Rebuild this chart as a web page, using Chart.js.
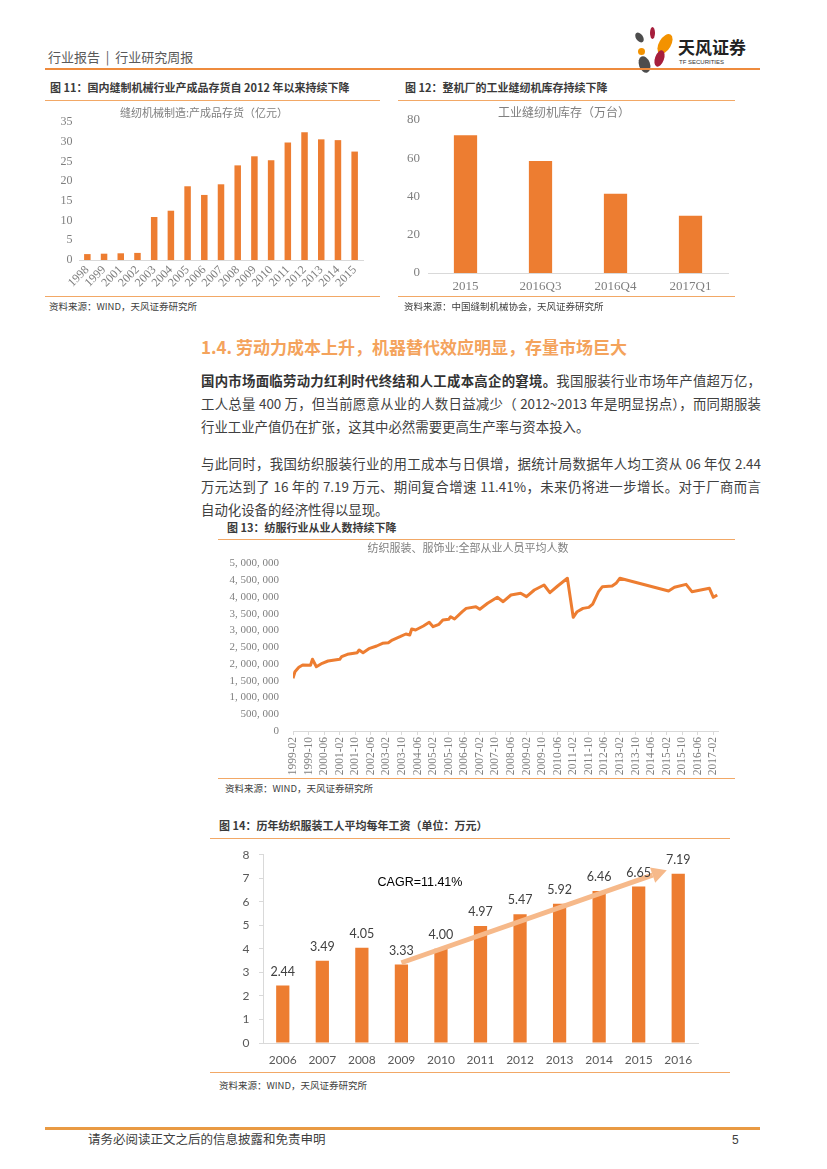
<!DOCTYPE html>
<html>
<head>
<meta charset="utf-8">
<script src="https://cdn.jsdelivr.net/npm/chart.js@4.4.0/dist/chart.umd.min.js"></script>
<style>
    body { margin: 0; width: 827px; height: 1169px; position: relative; background: #fff; overflow: hidden;
           font-family: "Noto Sans CJK SC", sans-serif; color: #404040; }
    .t { position: absolute; white-space: nowrap; line-height: 1; }
    .cap { font-size: 11px; font-weight: bold; color: #3a3a3a; }
    .src { font-size: 9.5px; color: #404040; }
    .rule { position: absolute; height: 1px; background: #F2A866; }
    .box { position: absolute; }
    .petal { position: absolute; border-radius: 50%; }
    .para { position: absolute; left: 201px; width: 560px; font-size: 13.4px; line-height: 23px; color: #404040; }
    .para div { white-space: nowrap; text-align: justify; text-align-last: justify; }
    .para div.last { text-align-last: left; }
</style>
</head>
<body>

<!-- header -->
<div class="t" style="left:48px;top:50px;font-size:13px;color:#595959;">行业报告 &nbsp;|&nbsp; 行业研究周报</div>
<div class="petal" style="left:636px;top:32px;width:7px;height:11px;background:#4d4d4d;transform:rotate(-35deg);"></div>
<div class="petal" style="left:650px;top:27px;width:5px;height:12px;background:#a61e3c;"></div>
<div class="petal" style="left:659px;top:33px;width:12px;height:22px;background:#f39200;transform:rotate(30deg);"></div>
<div class="petal" style="left:638px;top:48px;width:7px;height:7px;background:#f39200;"></div>
<div class="petal" style="left:655px;top:50px;width:9px;height:17px;background:#a61e3c;transform:rotate(20deg);"></div>
<div class="petal" style="left:639px;top:56px;width:11px;height:17px;background:#4d4d4d;transform:rotate(-20deg);"></div>
<div class="t" style="left:678px;top:37.5px;font-size:17px;font-weight:bold;color:#222;">天风证券</div>
<div class="t" style="left:679px;top:59px;font-size:6px;font-family:'Liberation Sans',sans-serif;color:#333;">TF SECURITIES</div>
<div class="rule" style="left:45px;top:68px;width:715px;height:2px;background:#EE8B3D;"></div>

<!-- figure 11 -->
<div class="t cap" style="left:50px;top:82px;">图 11：国内缝制机械行业产成品存货自 2012 年以来持续下降</div>
<div class="rule" style="left:45px;top:99.5px;width:335px;"></div>
<div class="box" style="left:45px;top:104px;width:330px;height:192px;"><canvas id="chart11"></canvas></div>
<div class="rule" style="left:45px;top:295.5px;width:335px;"></div>
<div class="t src" style="left:49px;top:302px;">资料来源：WIND，天风证券研究所</div>

<!-- figure 12 -->
<div class="t cap" style="left:405px;top:82px;">图 12：整机厂的工业缝纫机库存持续下降</div>
<div class="rule" style="left:398px;top:99.5px;width:337px;"></div>
<div class="box" style="left:400px;top:103px;width:344px;height:194px;"><canvas id="chart12"></canvas></div>
<div class="rule" style="left:398px;top:295.5px;width:337px;"></div>
<div class="t src" style="left:404px;top:302px;">资料来源：中国缝制机械协会，天风证券研究所</div>

<!-- section text -->
<div class="t" style="left:201px;top:337.5px;font-size:17px;font-weight:bold;color:#F4A35C;">1.4. 劳动力成本上升，机器替代效应明显，存量市场巨大</div>
<div class="para" style="top:368.5px;">
    <div><b style="color:#333;">国内市场面临劳动力红利时代终结和人工成本高企的窘境。</b>我国服装行业市场年产值超万亿，</div>
    <div>工人总量 400 万，但当前愿意从业的人数日益减少（ 2012~2013 年是明显拐点），而同期服装</div>
    <div class="last">行业工业产值仍在扩张，这其中必然需要更高生产率与资本投入。</div>
</div>
<div class="para" style="top:452px;">
    <div>与此同时，我国纺织服装行业的用工成本与日俱增，据统计局数据年人均工资从 06 年仅 2.44</div>
    <div>万元达到了 16 年的 7.19 万元、期间复合增速 11.41%，未来仍将进一步增长。对于厂商而言</div>
    <div class="last">自动化设备的经济性得以显现。</div>
</div>

<!-- figure 13 -->
<div class="t cap" style="left:227px;top:522px;">图 13：纺服行业从业人数持续下降</div>
<div class="rule" style="left:218px;top:538.5px;width:517px;"></div>
<div class="box" style="left:218px;top:539px;width:520px;height:237px;"><canvas id="chart13"></canvas></div>
<div class="rule" style="left:218px;top:777.5px;width:517px;"></div>
<div class="t src" style="left:225px;top:784px;">资料来源：WIND，天风证券研究所</div>

<!-- figure 14 -->
<div class="t cap" style="left:219px;top:820px;">图 14：历年纺织服装工人平均每年工资（单位：万元）</div>
<div class="rule" style="left:210px;top:837.5px;width:520px;"></div>
<div class="box" style="left:213px;top:838px;width:497px;height:233px;"><canvas id="chart14"></canvas></div>
<div class="rule" style="left:210px;top:1071.5px;width:520px;"></div>
<div class="t src" style="left:219px;top:1081px;">资料来源：WIND，天风证券研究所</div>

<!-- footer -->
<div class="rule" style="left:45px;top:1127px;width:715px;height:2.5px;background:#E99A43;"></div>
<div class="t" style="left:88px;top:1133px;font-size:12.5px;color:#404040;">请务必阅读正文之后的信息披露和免责申明</div>
<div class="t" style="left:732px;top:1134px;font-size:12px;color:#404040;font-family:'Liberation Sans',sans-serif;">5</div>

<script>
// fig 11: 缝纫机械制造 产成品存货（亿元）
const invYears = ["1998", "1999", "2001", "2002", "2003", "2004", "2005", "2006", "2007",
    "2008", "2009", "2010", "2011", "2012", "2013", "2014", "2015"];
const invValues = [1.5, 1.6, 1.7, 1.8, 10.9, 12.5, 18.7, 16.5, 19.2, 24.0, 26.3, 25.3, 29.8, 32.4, 30.6, 30.4, 27.5];

// fig 12: 工业缝纫机库存（万台）
const stockPeriods = ["2015", "2016Q3", "2016Q4", "2017Q1"];
const stockValues = [72, 58.5, 41.4, 29.9];

// fig 13: 纺织服装、服饰业 全部从业人员平均人数
const empMonths = [
    "1999-02", "1999-03", "1999-05", "1999-07", "1999-11", "1999-12", "2000-02", "2000-05", "2000-08",
    "2001-02", "2001-03", "2001-06", "2001-11", "2001-12", "2002-02", "2002-05", "2002-09", "2002-12",
    "2003-03", "2003-05", "2003-09", "2003-12", "2004-02", "2004-03", "2004-05", "2004-09", "2004-12",
    "2005-02", "2005-05", "2005-07", "2005-10", "2005-11", "2006-01", "2006-05", "2006-07", "2006-12",
    "2007-02", "2007-06", "2007-11", "2008-02", "2008-06", "2008-11", "2009-02", "2009-06", "2009-11",
    "2010-02", "2010-06", "2010-11", "2011-02", "2011-04", "2011-07", "2011-10", "2011-12", "2012-03",
    "2012-05", "2012-10", "2012-12", "2013-02", "2015-03", "2015-06", "2015-12", "2016-03", "2016-12",
    "2017-02", "2017-04"];
const empValues = [
    1571000, 1768000, 1899000, 1968000, 1958000, 2138000, 1917000, 2018000, 2087000,
    2138000, 2215000, 2287000, 2335000, 2415000, 2335000, 2454000, 2534000, 2615000,
    2633000, 2713000, 2812000, 2892000, 2862000, 3041000, 3011000, 3131000, 3240000,
    3110000, 3180000, 3310000, 3330000, 3408000, 3340000, 3557000, 3656000, 3706000,
    3630000, 3810000, 3986000, 3855000, 4055000, 4105000, 4005000, 4204000, 4353000,
    4124000, 4323000, 4553000, 3390000, 3557000, 3656000, 3686000, 3786000, 4154000,
    4303000, 4323000, 4403000, 4553000, 4174000, 4284000, 4373000, 4154000, 4254000,
    3986000, 4055000];
const empTickMonths = [
    "1999-02", "1999-10", "2000-06", "2001-02", "2001-10", "2002-06", "2003-02", "2003-10",
    "2004-06", "2005-02", "2005-10", "2006-06", "2007-02", "2007-10", "2008-06", "2009-02",
    "2009-10", "2010-06", "2011-02", "2011-10", "2012-06", "2013-02", "2013-10", "2014-06",
    "2015-02", "2015-10", "2016-06", "2017-02"];

// fig 14: 历年纺织服装工人平均每年工资（万元）
const wageYears = ["2006", "2007", "2008", "2009", "2010", "2011", "2012", "2013", "2014", "2015", "2016"];
const wageValues = [2.44, 3.49, 4.05, 3.33, 4.00, 4.97, 5.47, 5.92, 6.46, 6.65, 7.19];
const cagrText = "CAGR=11.41%";
// arrow ends in (category index, value)
const cagrFrom = [3, 3.41];
const cagrTo = [9.71, 7.34];

const ORANGE = "#ED7D31";
const SERIF = "'Liberation Serif', 'DejaVu Serif', serif";
const CJK = "'Noto Sans CJK SC', sans-serif";
const SANS = "Lato, 'Liberation Sans', sans-serif";
const AXIS = "#d9d9d9";

Chart.defaults.animation = false;
Chart.defaults.events = [];
Chart.defaults.plugins.legend.display = false;
Chart.defaults.plugins.tooltip.enabled = false;

const noGrid = { display: false, drawTicks: false };

new Chart(document.getElementById("chart11"), {
    type: "bar",
    data: {
        labels: invYears,
        datasets: [{ data: invValues, backgroundColor: ORANGE, barPercentage: 0.78, categoryPercentage: 0.5 }],
    },
    options: {
        responsive: true,
        maintainAspectRatio: false,
        layout: { padding: { left: 0, right: 12, top: 0, bottom: 0 } },
        plugins: {
            title: {
                display: true,
                text: "缝纫机械制造:产成品存货（亿元）",
                color: "#7f7f7f",
                font: { family: CJK, size: 11, weight: "normal" },
                padding: { top: 2.4, bottom: 2.4 },
            },
        },
        scales: {
            x: {
                grid: noGrid,
                border: { color: AXIS },
                ticks: { autoSkip: false, minRotation: 45, maxRotation: 45, padding: 3, color: "#7f7f7f", font: { family: SERIF, size: 12 } },
                afterFit: s => { s.height = 36; },
            },
            y: {
                min: 0,
                max: 35,
                grid: noGrid,
                border: { display: false },
                ticks: { stepSize: 5, padding: 6.5, color: "#7f7f7f", font: { family: SERIF, size: 12 } },
                afterFit: s => { s.width = 34; },
            },
        },
    },
});

new Chart(document.getElementById("chart12"), {
    type: "bar",
    data: {
        labels: stockPeriods,
        datasets: [{ data: stockValues, backgroundColor: ORANGE, barPercentage: 0.62, categoryPercentage: 0.5 }],
    },
    options: {
        responsive: true,
        maintainAspectRatio: false,
        layout: { padding: { left: 0, right: 16, top: 0, bottom: 0 } },
        plugins: {
            title: {
                display: true,
                text: "工业缝纫机库存（万台）",
                color: "#7f7f7f",
                font: { family: CJK, size: 12, weight: "normal" },
                padding: { top: 1.8, bottom: 0.8 },
            },
        },
        scales: {
            x: {
                grid: noGrid,
                border: { color: AXIS },
                ticks: { padding: 6, color: "#7f7f7f", font: { family: SERIF, size: 13 } },
                afterFit: s => { s.height = 24; },
            },
            y: {
                min: 0,
                max: 80,
                grid: noGrid,
                border: { display: false },
                ticks: { stepSize: 20, padding: 8, color: "#7f7f7f", font: { family: SERIF, size: 13 } },
                afterFit: s => { s.width = 28; },
            },
        },
    },
});

// month string -> months since 1999-02
function monthIndex(m) {
    const [y, mo] = m.split("-").map(Number);
    return (y - 1999) * 12 + (mo - 2);
}

new Chart(document.getElementById("chart13"), {
    type: "line",
    data: {
        datasets: [{
            data: empMonths.map((m, i) => ({ x: monthIndex(m), y: empValues[i] })),
            borderColor: ORANGE,
            borderWidth: 3,
            borderJoinStyle: "round",
            pointRadius: 0,
            tension: 0,
        }],
    },
    options: {
        responsive: true,
        maintainAspectRatio: false,
        layout: { padding: { left: 0, right: 20, top: 0, bottom: 0 } },
        plugins: {
            title: {
                display: true,
                text: "纺织服装、服饰业:全部从业人员平均人数",
                color: "#7f7f7f",
                font: { family: CJK, size: 11, weight: "normal" },
                padding: { top: 2.4, bottom: 8.7 },
            },
        },
        scales: {
            x: {
                type: "linear",
                min: 0,
                max: 218.4,
                afterBuildTicks: axis => { axis.ticks = empTickMonths.map(m => ({ value: monthIndex(m) })); },
                grid: { display: true, drawOnChartArea: false, drawTicks: true, tickLength: 4, color: AXIS },
                border: { color: AXIS },
                ticks: {
                    autoSkip: false, minRotation: 90, maxRotation: 90, padding: 2,
                    color: "#7f7f7f", font: { family: SERIF, size: 11.5 },
                    callback: (v, i) => empTickMonths[i],
                },
                afterFit: s => { s.height = 45; },
            },
            y: {
                min: 0,
                max: 5000000,
                grid: noGrid,
                border: { display: false },
                ticks: {
                    stepSize: 500000, padding: 14, color: "#7f7f7f", font: { family: SERIF, size: 11 },
                    callback: v => v.toLocaleString("en-US").replace(/,/g, ", "),
                },
                afterFit: s => { s.width = 75; },
            },
        },
    },
});

// value labels, CAGR arrow and note for fig 14
const wageDecor = {
    id: "wageDecor",
    afterDatasetsDraw(chart) {
        const { ctx, scales: { x, y } } = chart;
        const x1 = x.getPixelForValue(cagrFrom[0]), y1 = y.getPixelForValue(cagrFrom[1]);
        const x2 = x.getPixelForValue(cagrTo[0]), y2 = y.getPixelForValue(cagrTo[1]);
        const ang = Math.atan2(y2 - y1, x2 - x1);
        const head = 15, half = 8;
        const bx = x2 - head * Math.cos(ang), by = y2 - head * Math.sin(ang);
        ctx.save();
        ctx.strokeStyle = "#F6B98A";
        ctx.fillStyle = "#F6B98A";
        ctx.lineWidth = 5;
        ctx.beginPath();
        ctx.moveTo(x1, y1);
        ctx.lineTo(bx, by);
        ctx.stroke();
        ctx.beginPath();
        ctx.moveTo(x2, y2);
        ctx.lineTo(bx + half * Math.sin(ang), by - half * Math.cos(ang));
        ctx.lineTo(bx - half * Math.sin(ang), by + half * Math.cos(ang));
        ctx.closePath();
        ctx.fill();

        ctx.fillStyle = "#404040";
        ctx.font = "12.5px " + SANS;
        ctx.textAlign = "center";
        ctx.textBaseline = "middle";
        chart.getDatasetMeta(0).data.forEach((bar, i) => {
            ctx.fillText(wageValues[i].toFixed(2), bar.x, bar.y - 14);
        });

        ctx.fillStyle = "#000";
        ctx.font = "12.5px 'Liberation Sans', sans-serif";
        ctx.fillText(cagrText, x.getPixelForValue(3.47), y.getPixelForValue(6.8));
        ctx.restore();
    },
};

new Chart(document.getElementById("chart14"), {
    type: "bar",
    data: {
        labels: wageYears,
        datasets: [{ data: wageValues, backgroundColor: ORANGE, barPercentage: 0.67, categoryPercentage: 0.5 }],
    },
    options: {
        responsive: true,
        maintainAspectRatio: false,
        layout: { padding: { left: 0, right: 12, top: 9.7, bottom: 0 } },
        scales: {
            x: {
                grid: noGrid,
                border: { color: AXIS },
                ticks: { padding: 10, color: "#595959", font: { family: SANS, size: 12 } },
                afterFit: s => { s.height = 28; },
            },
            y: {
                min: 0,
                max: 8,
                grid: { display: true, drawOnChartArea: false, drawTicks: true, tickLength: 4, color: AXIS },
                border: { color: AXIS },
                ticks: { stepSize: 1, padding: 9.5, color: "#595959", font: { family: SANS, size: 12 } },
                afterFit: s => { s.width = 50; },
            },
        },
    },
    plugins: [wageDecor],
});
</script>
</body>
</html>
